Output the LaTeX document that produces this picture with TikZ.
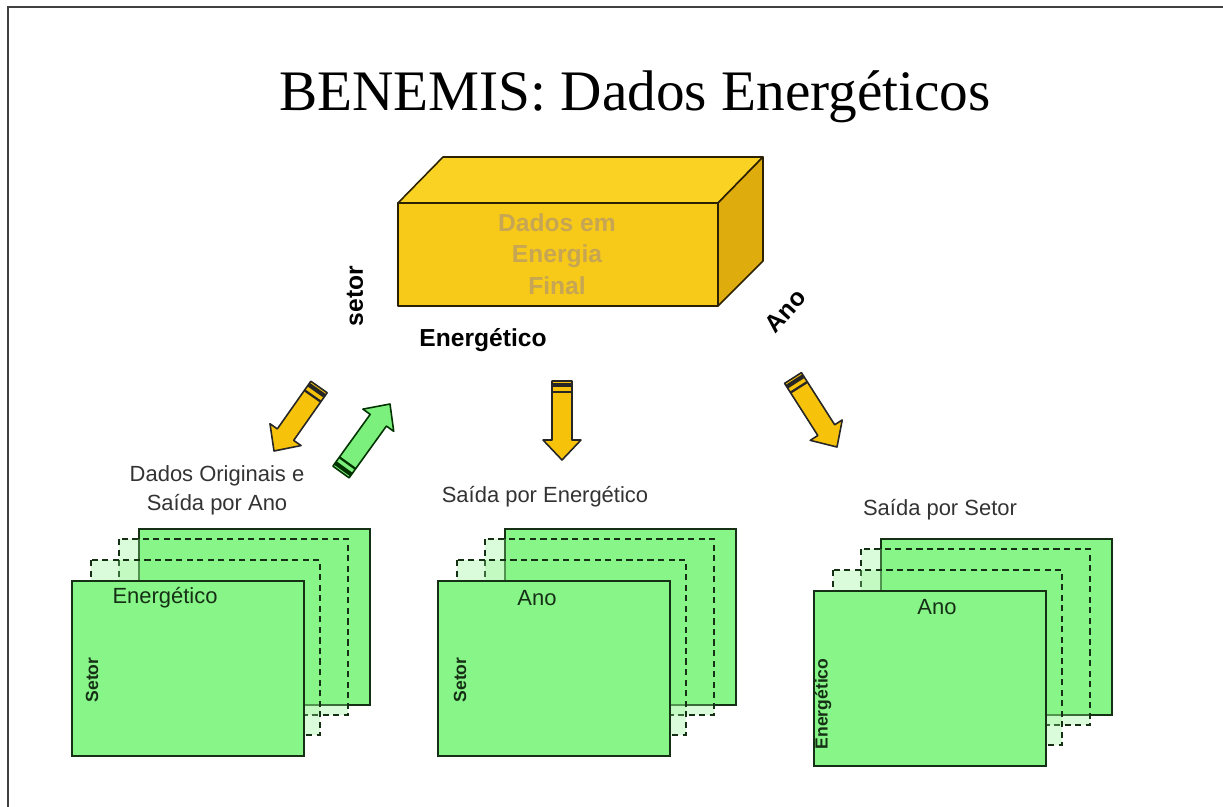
\documentclass[tikz,border=0pt]{standalone}
\usepackage{fontspec}
\setmainfont{Liberation Serif}
\setsansfont{Liberation Sans}
\usetikzlibrary{calc}

\definecolor{boxfront}{RGB}{247,201,24}
\definecolor{boxtop}{RGB}{250,210,36}
\definecolor{boxside}{RGB}{222,172,12}
\definecolor{boxtext}{RGB}{198,166,84}
\definecolor{sheetgreen}{RGB}{136,245,136}
\definecolor{sheetline}{RGB}{22,48,22}
\definecolor{arrowgold}{RGB}{246,194,10}
\definecolor{arrowgreen}{RGB}{124,240,124}

% block arrow: tail, tip, fill colour, outline colour
\newcommand{\blockarrow}[4]{%
  \coordinate (hb) at ($(#2)!0.4cm!(#1)$);
  \filldraw[fill=#3, draw=#4, line width=0.9pt, line join=round]
    ($(#1)!0.2cm!90:(#2)$) -- ($(hb)!0.2cm!90:(#2)$) -- ($(hb)!0.38cm!90:(#2)$)
    -- (#2) -- ($(hb)!0.38cm!-90:(#2)$) -- ($(hb)!0.2cm!-90:(#2)$)
    -- ($(#1)!0.2cm!-90:(#2)$) -- cycle;
  \coordinate (s1) at ($(#1)!0.08cm!(#2)$);
  \coordinate (s2) at ($(#1)!0.22cm!(#2)$);
  \draw[#4, line width=2.4pt] ($(s1)!0.2cm!90:(#2)$) -- ($(s1)!0.2cm!-90:(#2)$);
  \draw[#4, line width=1.3pt] ($(s2)!0.2cm!90:(#2)$) -- ($(s2)!0.2cm!-90:(#2)$);
}

\begin{document}
\begin{tikzpicture}[x=0.02cm, y=-0.02cm,
    sheet/.style={draw=sheetline, fill=sheetgreen, line width=1.2pt},
    ghost/.style={draw=sheetline, fill=sheetgreen, fill opacity=0.3, line width=1.5pt,
      dash pattern=on 3.5pt off 2.5pt},
    front/.style={sheet, anchor=north west, minimum width=4.64cm, minimum height=3.5cm,
      inner sep=0pt},
    sheetlbl/.style={font=\sffamily\fontsize{12.5}{15}\selectfont, text=sheetline},
    sidelbl/.style={font=\sffamily\bfseries\fontsize{10}{12}\selectfont, text=sheetline, rotate=90},
    axislbl/.style={font=\sffamily\bfseries\fontsize{14}{16}\selectfont},
    stacklbl/.style={font=\sffamily\fontsize{12.5}{16.4}\selectfont, text=black!80, align=center}]
  \useasboundingbox (0,0) rectangle (1223,807);

  % frame, only top and left
  \draw[black!75, line width=1.2pt] (1223,7) -- (8,7) -- (8,807);

  \node[font=\fontsize{32.6}{36}\selectfont] (title) at (635,97) {BENEMIS: Dados Energéticos};

  % the block of final energy data
  \coordinate (f1) at (398,203);
  \coordinate (f2) at (718,203);
  \coordinate (f3) at (718,306);
  \coordinate (f4) at (398,306);
  \coordinate (b1) at (443,157);
  \coordinate (b2) at (763,157);
  \coordinate (b3) at (763,261);
  \filldraw[fill=boxtop, draw=black!80!boxside, line width=0.9pt, line join=round]
    (f1) -- (b1) -- (b2) -- (f2) -- cycle;
  \filldraw[fill=boxside, draw=black!80!boxside, line width=0.9pt, line join=round]
    (f2) -- (b2) -- (b3) -- (f3) -- cycle;
  \filldraw[fill=boxfront, draw=black!80!boxside, line width=0.9pt, line join=round]
    (f1) rectangle (f3);
  \node[font=\sffamily\bfseries\fontsize{14}{17.9}\selectfont, text=boxtext, align=center]
    (data) at (557,254) {Dados em\\Energia\\Final};

  \node[axislbl, rotate=90] (setor) at (355,296) {setor};
  \node[axislbl] (energ) at (483,340) {Energético};
  \node[axislbl, rotate=48, inner sep=0pt] (ano) at (785,311) {Ano};

  % arrows
  \coordinate (ya0) at (319,387);
  \coordinate (ya1) at (274,451);
  \coordinate (ga0) at (341,472);
  \coordinate (ga1) at (390,404);
  \coordinate (ma0) at (562,381);
  \coordinate (ma1) at (562,460);
  \coordinate (ra0) at (793,378);
  \coordinate (ra1) at (837,447);
  \blockarrow{ya0}{ya1}{arrowgold}{black!85}
  \blockarrow{ga0}{ga1}{arrowgreen}{green!20!black}
  \blockarrow{ma0}{ma1}{arrowgold}{black!85}
  \blockarrow{ra0}{ra1}{arrowgold}{black!85}

  % the three stacks of sheets
  \foreach \dx/\dy/\s in {0/0/l, 366/0/m, 742/10/r} {
    \begin{scope}[shift={(\dx,\dy)}]
      \draw[sheet] (139,529) rectangle (370,705);
      \draw[ghost] (119,539) rectangle (348,715);
      \draw[ghost] (91,560) rectangle (320,735);
      \node[front] (\s front) at (71,580) {};
    \end{scope}
  }

  \node[stacklbl] (lname) at (217,490) {Dados Originais e\\Saída por Ano};
  \node[stacklbl] (mname) at (545,497) {Saída por Energético};
  \node[stacklbl] (rname) at (940,510) {Saída por Setor};

  \node[sheetlbl] (ltop) at (165,598) {Energético};
  \node[sidelbl] (lside) at (92,680) {Setor};
  \node[sheetlbl] (mtop) at (537,598) {Ano};
  \node[sidelbl] (mside) at (460,680) {Setor};
  \node[sheetlbl] (rtop) at (937,607) {Ano};
  \node[sidelbl] (rside) at (823,704) {Energético};
\end{tikzpicture}
\end{document}
